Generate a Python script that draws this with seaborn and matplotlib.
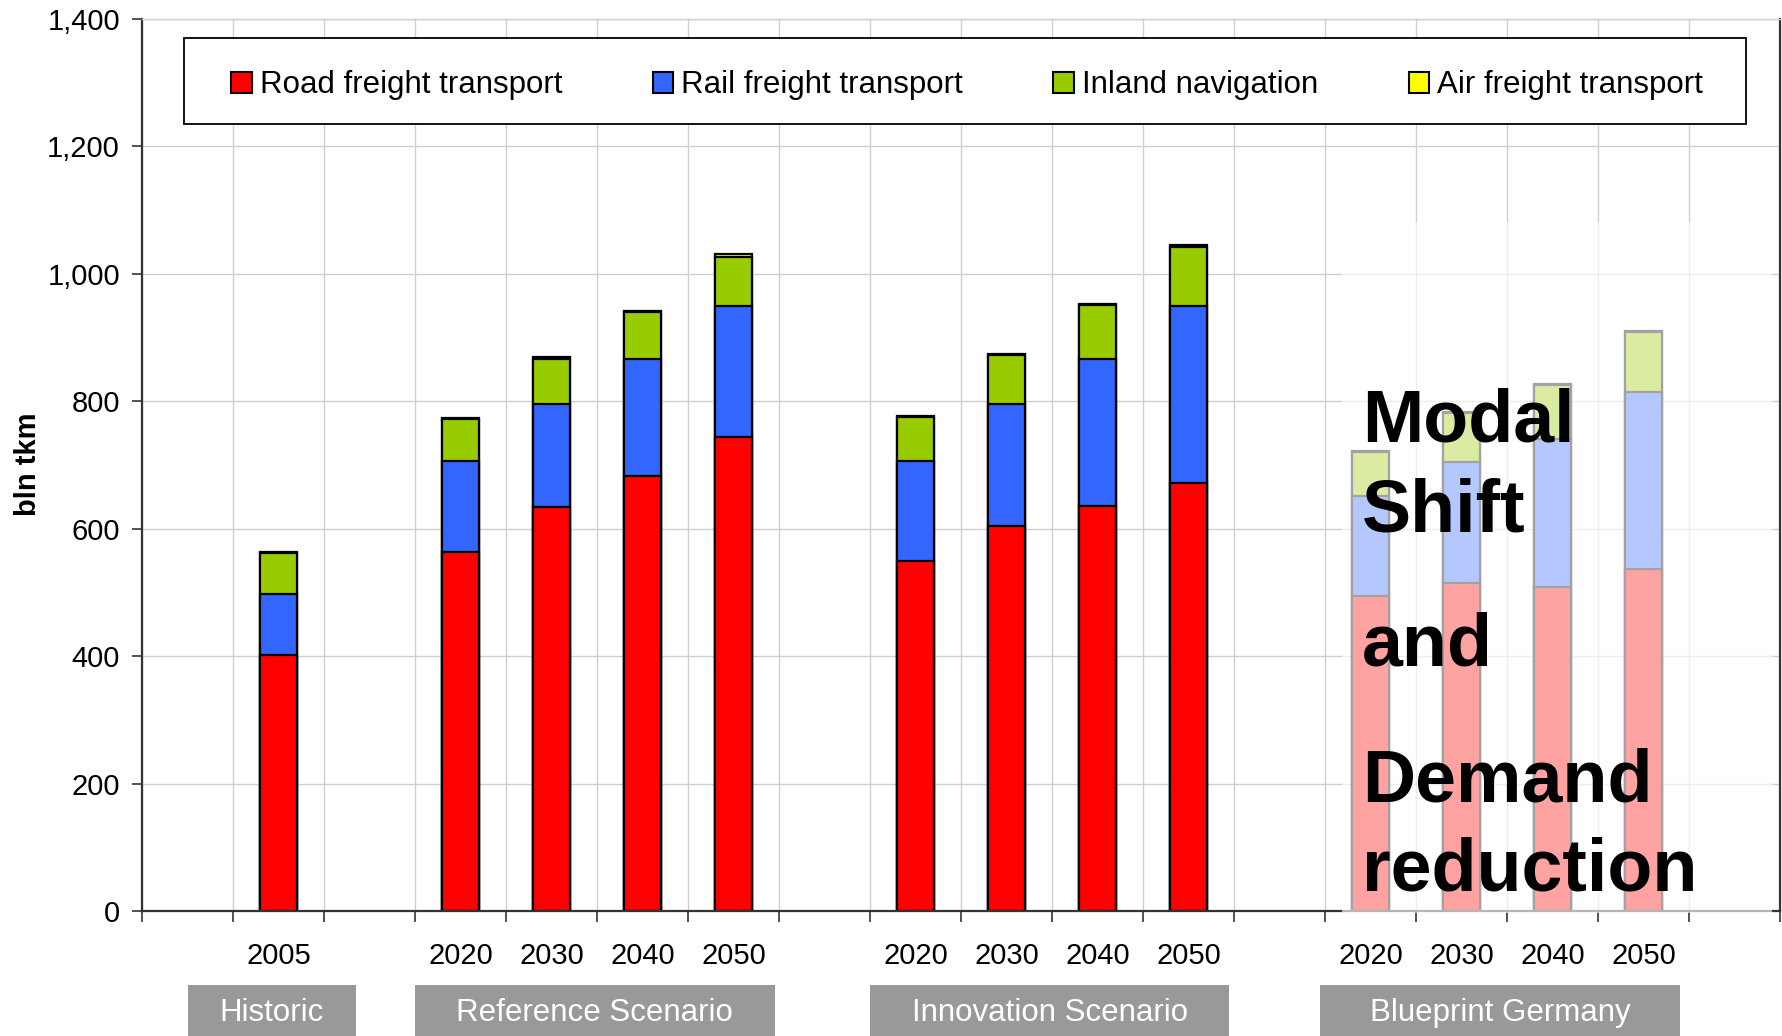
import numpy as np
import pandas as pd
import matplotlib
matplotlib.use("Agg")
import matplotlib.pyplot as plt
import matplotlib.patches as mpatches
import matplotlib.transforms as mtransforms
from matplotlib.ticker import FuncFormatter
import seaborn as sns

# ---- data (bln tkm) ----
groups = ["Historic", "Reference Scenario", "Innovation Scenario", "Blueprint Germany"]
group_years = [["2005"],
               ["2020", "2030", "2040", "2050"],
               ["2020", "2030", "2040", "2050"],
               ["2020", "2030", "2040", "2050"]]
road = [402, 564, 634, 683, 744, 550, 604, 635, 671, 494, 514, 508, 537]
rail = [96, 142, 162, 183, 206, 156, 192, 231, 278, 157, 191, 232, 277]
inland = [64, 66, 71, 74, 77, 69, 76, 85, 93, 69, 76, 85, 94]
air = [1, 2, 2, 2, 4, 2, 2, 2, 4, 2, 2, 2, 3]

series_names = ["Road freight transport", "Rail freight transport",
                "Inland navigation", "Air freight transport"]
series_colors = ["#FF0000", "#3366FF", "#99CC00", "#FFFF00"]

# slot layout: one empty slot before each group
positions, year_labels = [], []
slot = 1
for g, yrs in zip(groups, group_years):
    for y in yrs:
        positions.append(slot + 0.5)
        year_labels.append(y)
        slot += 1
    slot += 1
n_slots = 18

df = pd.DataFrame({"pos": positions, "road": road, "rail": rail,
                   "inland": inland, "air": air})
df["c_road"] = df["road"]
df["c_rail"] = df["c_road"] + df["rail"]
df["c_inland"] = df["c_rail"] + df["inland"]
df["c_air"] = df["c_inland"] + df["air"]

sns.set_style("white")
plt.rcParams["font.family"] = ["Liberation Sans", "DejaVu Sans"]
plt.rcParams["text.color"] = "black"
plt.rcParams["xtick.labelcolor"] = "black"
plt.rcParams["ytick.labelcolor"] = "black"

fig = plt.figure(figsize=(17.83, 10.36), dpi=100)
ax = fig.add_axes([0.0797, 0.1207, 0.9186, 0.8610])

# stacked bars: draw cumulative totals from the top layer down
for col, color in zip(["c_air", "c_inland", "c_rail", "c_road"], series_colors[::-1]):
    sns.barplot(data=df, x="pos", y=col, native_scale=True, width=0.41,
                color=color, saturation=1, edgecolor="black", linewidth=1.6,
                errorbar=None, ax=ax, zorder=2)

ax.set_xlim(0, n_slots)
ax.set_ylim(0, 1400)
ax.set_xlabel("")
ax.set_ylabel("")

# axes, ticks, grid
ax.set_yticks(np.arange(0, 1401, 200))
ax.yaxis.set_major_formatter(FuncFormatter(lambda v, p: f"{int(v):,}"))
ax.tick_params(axis="y", which="major", direction="out", length=7, width=1.2,
               color="#333333", labelcolor="black", labelsize=21, pad=9, left=True)
ax.set_xticks(np.arange(0, n_slots + 1, 1))
ax.set_xticklabels([])
ax.set_xticks(positions, minor=True)
ax.set_xticklabels(year_labels, minor=True)
ax.tick_params(axis="x", which="major", direction="out", length=8, width=1.2,
               color="#333333", bottom=True)
ax.tick_params(axis="x", which="minor", length=0, labelsize=21, pad=22,
               labelcolor="black")
ax.grid(True, which="major", color="#CFCFCF", linewidth=1.0, linestyle="-")
ax.set_axisbelow(True)
for s in ["left", "bottom", "right"]:
    ax.spines[s].set_color("#333333")
    ax.spines[s].set_linewidth(1.6)
    ax.spines[s].set_visible(True)
ax.spines["top"].set_color("#CFCFCF")
ax.spines["top"].set_linewidth(1.0)

# legend with its own frame
fig.patches.append(mpatches.Rectangle((0.1033, 0.8803), 0.8757, 0.0835,
                                      transform=fig.transFigure, facecolor="white",
                                      edgecolor="black", linewidth=1.3, zorder=1))
handles = [mpatches.Patch(facecolor=c, edgecolor="black", linewidth=1.5)
           for c in series_colors]
leg = fig.legend(handles, series_names, loc="center", ncol=4, mode="expand",
                 bbox_to_anchor=(0.1296, 0.9175, 0.8255, 0.0), frameon=False,
                 fontsize=22.5, handlelength=0.66, handleheight=0.66,
                 handletextpad=0.25, borderpad=0, borderaxespad=0,
                 labelcolor="black")
leg.set_zorder(5)

# y label
fig.text(0.0155, 0.552, "bln tkm", rotation=90, ha="center", va="center",
         fontsize=21, fontweight="bold", color="black")

# scenario boxes under the year labels
box_spans = [(0.5, 2.35), (3.0, 6.95), (8.0, 11.95), (12.95, 16.9)]
blend = mtransforms.blended_transform_factory(ax.transData, fig.transFigure)
for (x0, x1), name in zip(box_spans, groups):
    ax.add_patch(mpatches.Rectangle((x0, -0.01), x1 - x0, 0.0592, transform=blend,
                                    facecolor="#999999", edgecolor="none",
                                    clip_on=False, zorder=5))
    ax.text((x0 + x1) / 2, 0.0225, name, transform=blend, ha="center", va="center",
            fontsize=22.5, color="white", zorder=6, clip_on=False)

# white veil over the Blueprint Germany bars
fig.patches.append(mpatches.Rectangle((0.7527, 0.1187), 0.2411, 0.6670,
                                      transform=fig.transFigure, facecolor="white",
                                      edgecolor="none", alpha=0.64, zorder=3))

# annotation text
note_lines = ["Modal", "Shift", "and", "Demand", "reduction"]
note_y = [0.5734, 0.4865, 0.3581, 0.2259, 0.1409]
for t, yy in zip(note_lines, note_y):
    fig.text(0.7639, yy, t, ha="left", va="baseline", fontsize=53,
             fontweight="bold", color="black", zorder=6)

fig.savefig("out.png", dpi=100)
